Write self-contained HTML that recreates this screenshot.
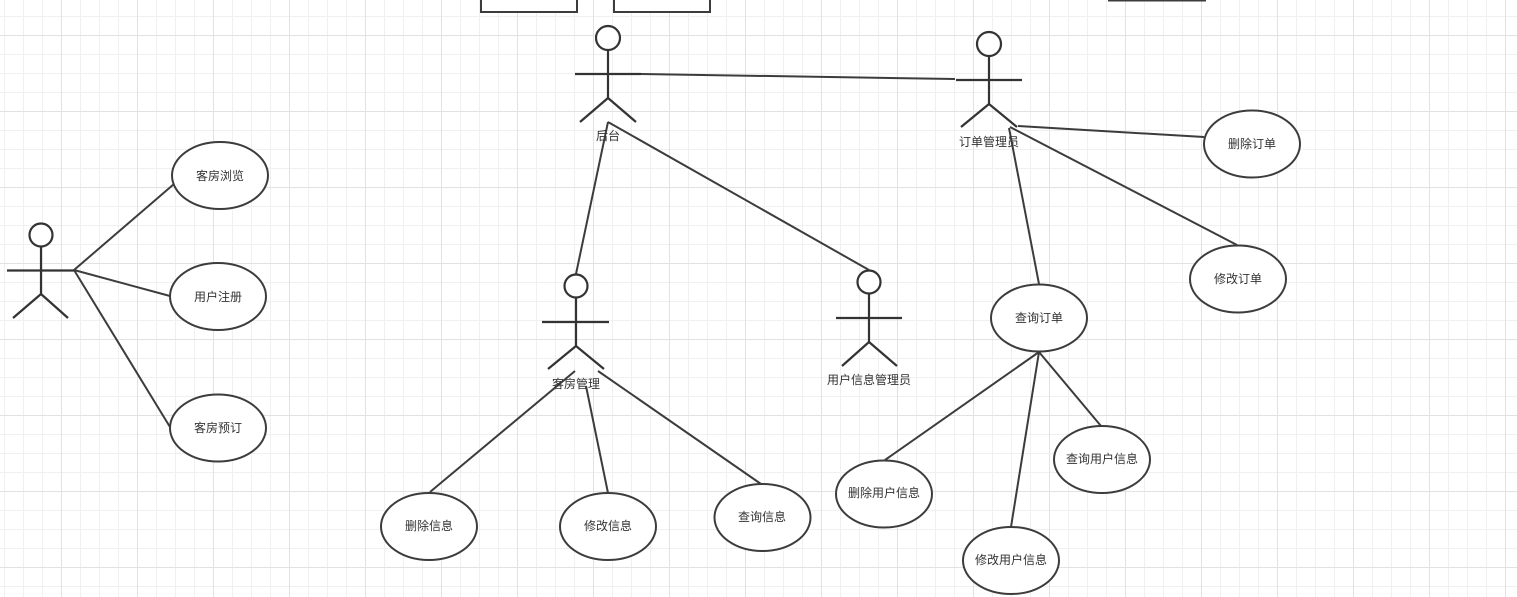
<!DOCTYPE html>
<html>
<head>
<meta charset="utf-8">
<style>
html,body{margin:0;padding:0;background:#fff;}
body{width:1517px;height:597px;overflow:hidden;}
svg{display:block;}
text{font-family:"Liberation Sans","Noto Sans CJK SC",sans-serif;font-size:12px;fill:#333;}
</style>
</head>
<body>
<svg width="1517" height="597" viewBox="0 0 1517 597" xmlns="http://www.w3.org/2000/svg">
<defs>
<pattern id="minor" patternUnits="userSpaceOnUse" x="4" y="16" width="19" height="19">
<path d="M0.5 0V19M0 0.5H19" stroke="#f0f0f0" stroke-width="1" fill="none"/>
</pattern>
<pattern id="major" patternUnits="userSpaceOnUse" x="61" y="35" width="76" height="76">
<path d="M0.5 0V76M0 0.5H76" stroke="#e2e2e2" stroke-width="1" fill="none"/>
</pattern>
</defs>
<rect width="1517" height="597" fill="#fff"/>
<rect width="1517" height="597" fill="url(#minor)"/>
<rect width="1517" height="597" fill="url(#major)"/>

<!-- top rects -->
<g fill="#fff" stroke="#3c3c3c" stroke-width="2">
<rect x="481" y="-40" width="96" height="52"/>
<rect x="614" y="-40" width="96" height="52"/>
<rect x="1109" y="-40" width="96" height="40.5"/>
</g>

<!-- connectors -->
<g stroke="#3c3c3c" stroke-width="2" fill="none">
<line x1="74" y1="270" x2="174" y2="184"/>
<line x1="74" y1="270" x2="170" y2="296"/>
<line x1="74" y1="270" x2="170" y2="427"/>
<line x1="641" y1="74" x2="955" y2="79"/>
<line x1="608" y1="122" x2="576" y2="274"/>
<line x1="608" y1="122" x2="869" y2="270"/>
<line x1="575" y1="371" x2="430" y2="492"/>
<line x1="586" y1="386" x2="608" y2="493"/>
<line x1="598" y1="371" x2="761" y2="484"/>
<line x1="1018" y1="126" x2="1204" y2="137"/>
<line x1="1010" y1="127" x2="1237" y2="245"/>
<line x1="1009" y1="128" x2="1039" y2="284"/>
<line x1="1039" y1="352" x2="885" y2="460"/>
<line x1="1039" y1="352" x2="1011" y2="527"/>
<line x1="1039" y1="352" x2="1101" y2="426"/>
</g>

<!-- actors -->
<g stroke="#333" stroke-width="2.2" fill="#fff">
<circle cx="41" cy="235" r="11.5"/>
<path d="M41 246.5V294M7 270.5H74M41 294L13 318M41 294L68 318" fill="none"/>
<circle cx="608" cy="38" r="12"/>
<path d="M608 50V98M575 74H641M608 98L580 122M608 98L636 122" fill="none"/>
<circle cx="989" cy="44" r="12"/>
<path d="M989 56V104M956 80H1022M989 104L961 127M989 104L1017 127" fill="none"/>
<circle cx="576" cy="286" r="11.5"/>
<path d="M576 297.5V346M542 322H609M576 346L548 369M576 346L604 369" fill="none"/>
<circle cx="869" cy="282" r="11.5"/>
<path d="M869 293.5V342M836 318H902M869 342L842 366M869 342L897 366" fill="none"/>
</g>

<!-- use cases -->
<g fill="#fff" stroke="#3c3c3c" stroke-width="2">
<ellipse cx="220" cy="175.5" rx="48" ry="33.5"/>
<ellipse cx="218" cy="296.5" rx="48" ry="33.5"/>
<ellipse cx="218" cy="428" rx="48" ry="33.5"/>
<ellipse cx="1252" cy="144" rx="48" ry="33.5"/>
<ellipse cx="1238" cy="279" rx="48" ry="33.5"/>
<ellipse cx="1039" cy="318" rx="48" ry="33.5"/>
<ellipse cx="429" cy="526.5" rx="48" ry="33.5"/>
<ellipse cx="608" cy="526.5" rx="48" ry="33.5"/>
<ellipse cx="762.5" cy="517.5" rx="48" ry="33.5"/>
<ellipse cx="884" cy="494" rx="48" ry="33.5"/>
<ellipse cx="1011" cy="560.5" rx="48" ry="33.5"/>
<ellipse cx="1102" cy="459.5" rx="48" ry="33.5"/>
</g>

<g text-anchor="middle" dominant-baseline="central">
<text x="220" y="176">客房浏览</text>
<text x="218" y="297">用户注册</text>
<text x="218" y="428">客房预订</text>
<text x="1252" y="144">删除订单</text>
<text x="1238" y="279">修改订单</text>
<text x="1039" y="318">查询订单</text>
<text x="429" y="526">删除信息</text>
<text x="608" y="526">修改信息</text>
<text x="762" y="517">查询信息</text>
<text x="884" y="493">删除用户信息</text>
<text x="1011" y="560">修改用户信息</text>
<text x="1102" y="459">查询用户信息</text>
<text x="608" y="136">后台</text>
<text x="989" y="142">订单管理员</text>
<text x="576" y="384">客房管理</text>
<text x="869" y="380">用户信息管理员</text>
</g>
</svg>
</body>
</html>
